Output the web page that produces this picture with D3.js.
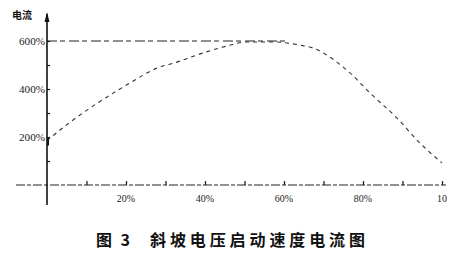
<!DOCTYPE html>
<html><head><meta charset="utf-8">
<script src="https://cdn.jsdelivr.net/npm/d3@7"></script>
<style>body{margin:0;background:#fff}svg{display:block}</style>
</head><body>
<script>
const speedPct = [0, 3.3, 6.6, 10.9, 15.2, 21, 27.8, 32.9, 38, 44.6, 50.6, 57.2, 64, 67.3, 71.6, 76.7, 81.8, 88.6, 94.4, 100];
const currentPct = [185, 229, 271, 321, 367, 425, 487, 512, 542, 575, 596, 596, 583, 571, 533, 467, 383, 279, 175, 92];
const yTicks = [200, 400, 600];
const yTickLabels = ["200%", "400%", "600%"];
const xTicks = [20, 40, 60, 80, 100];
const xTickLabels = ["20%", "40%", "60%", "80%", "100%"];
const yTitle = "电流";
const captionNo = "图\u00a03";
const captionText = "斜坡电压启动速度电流图";
const limitLevel = 600;

const W = 466, H = 257;
const svg = d3.select("body").append("svg").attr("width", W).attr("height", H);
const x = d3.scaleLinear().domain([0, 100]).range([47, 442]);
const y = d3.scaleLinear().domain([0, 600]).range([185, 41]);

svg.append("defs").append("clipPath").attr("id", "clipx")
  .append("rect").attr("x", 0).attr("y", 0).attr("width", 447).attr("height", H);

// x axis line (dashed, scanned look)
svg.append("line").attr("x1", 16).attr("x2", 446).attr("y1", y(0)).attr("y2", y(0))
  .attr("stroke", "#222").attr("stroke-width", 1.2).attr("stroke-dasharray", "9,2,4,2");
// x ticks every 10%
const xa = svg.append("g").attr("transform", `translate(0,${y(0)})`)
  .call(d3.axisBottom(x).tickValues(d3.range(10, 101, 10)).tickSize(-4).tickFormat(""));
xa.select(".domain").remove();
xa.selectAll(".tick line").attr("stroke", "#222").attr("stroke-width", 1.3);
// x tick labels
svg.append("g").attr("clip-path", "url(#clipx)").selectAll("text").data(xTicks).join("text")
  .attr("x", d => x(d)).attr("y", 202)
  .attr("text-anchor", (d, i) => i === xTicks.length - 1 ? "start" : "middle")
  .attr("dx", (d, i) => i === xTicks.length - 1 ? -5 : 0)
  .attr("font-family", "Liberation Serif, DejaVu Serif, serif").attr("font-size", 10)
  .attr("fill", "#222")
  .text((d, i) => xTickLabels[i]);

// y axis
svg.append("line").attr("x1", x(0)).attr("x2", x(0)).attr("y1", 14).attr("y2", 205)
  .attr("stroke", "#111").attr("stroke-width", 1.6);
svg.append("path").attr("d", `M${x(0)-2.5},22 L${x(0)},12 L${x(0)+2.5},22 Z`).attr("fill", "#111");
const ya = svg.append("g").attr("transform", `translate(${x(0)},0)`)
  .call(d3.axisRight(y).tickValues(d3.range(100, 601, 100)).tickSize(3).tickFormat(""));
ya.select(".domain").remove();
ya.selectAll(".tick line").attr("stroke", "#111").attr("stroke-width", 1.2);
svg.append("g").selectAll("text").data(yTicks).join("text")
  .attr("x", 45).attr("y", d => y(d) + 3.5).attr("text-anchor", "end")
  .attr("font-family", "Liberation Serif, DejaVu Serif, serif").attr("font-size", 10)
  .attr("fill", "#222").attr("textLength", 26).attr("lengthAdjust", "spacingAndGlyphs")
  .text((d, i) => yTickLabels[i]);

// y title
svg.append("text").attr("x", 12).attr("y", 19)
  .attr("font-family", "Noto Sans CJK SC, sans-serif").attr("font-weight", "bold")
  .attr("font-size", 10).attr("fill", "#111").text(yTitle);

// 600% reference dashed line
svg.append("line").attr("x1", x(0)).attr("x2", x(61)).attr("y1", y(limitLevel)).attr("y2", y(limitLevel))
  .attr("stroke", "#222").attr("stroke-width", 1.1).attr("stroke-dasharray", "10,3,5,4");

// current curve
const line = d3.line().x((d, i) => x(speedPct[i])).y(d => y(d)).curve(d3.curveMonotoneX);
svg.append("path").datum(currentPct).attr("d", line)
  .attr("fill", "none").attr("stroke", "#333").attr("stroke-width", 1.1)
  .attr("stroke-dasharray", "4,4");
// start marker segment
svg.append("line").attr("x1", x(0) + 1).attr("x2", x(0) + 1).attr("y1", y(200)).attr("y2", y(165))
  .attr("stroke", "#111").attr("stroke-width", 2);

// caption
svg.append("text").attr("x", 96).attr("y", 246)
  .attr("font-family", "Noto Sans CJK SC, sans-serif").attr("font-weight", "bold")
  .attr("font-size", 16).attr("fill", "#111").attr("textLength", 34).attr("lengthAdjust", "spacing")
  .text(captionNo);
svg.append("text").attr("x", 150).attr("y", 246)
  .attr("font-family", "Noto Sans CJK SC, sans-serif").attr("font-weight", "bold")
  .attr("font-size", 16).attr("fill", "#111").attr("textLength", 215).attr("lengthAdjust", "spacing")
  .text(captionText);
</script>
</body></html>
